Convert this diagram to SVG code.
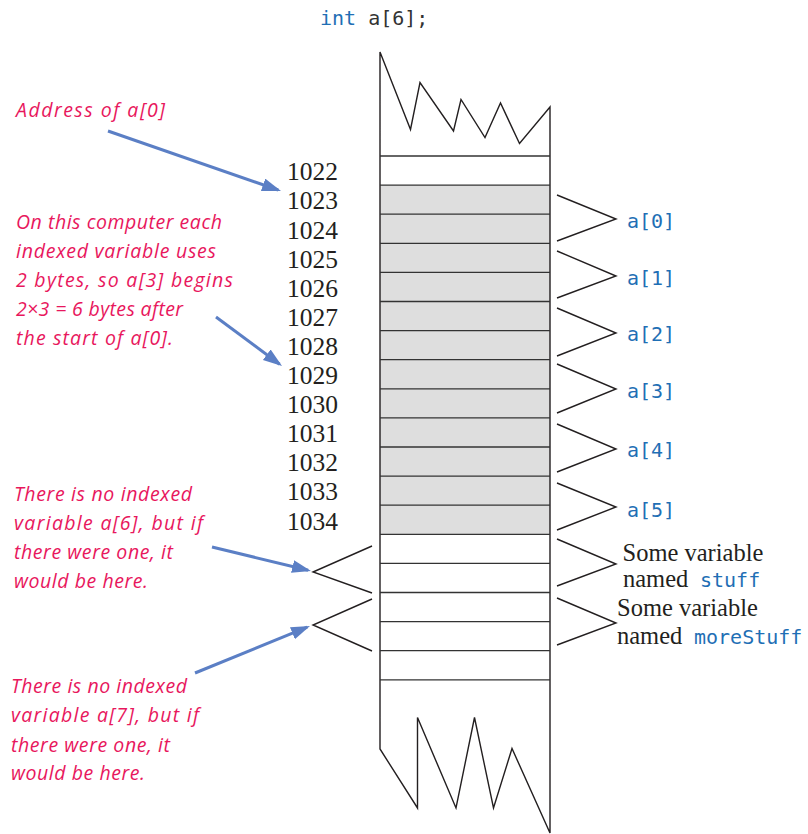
<svg xmlns="http://www.w3.org/2000/svg" width="808" height="834" viewBox="0 0 808 834">
  <style>
    .cell { fill: none; stroke: #333; stroke-width: 1.3; }
    .edge { fill: none; stroke: #231f20; stroke-width: 1.4; stroke-linejoin: miter; }
    .brace { fill: none; stroke: #231f20; stroke-width: 1.4; }
    .addr { font-family: "Liberation Serif", "Times New Roman", serif; font-size: 25.5px; fill: #231f20; text-anchor: end; }
    .serif { font-family: "Liberation Serif", "Times New Roman", serif; font-size: 24.5px; fill: #231f20; }
    .code { font-family: "DejaVu Sans Mono", "Liberation Mono", monospace; font-size: 20px; fill: #1f6fb5; }
    .note { font-family: "Open Sans", "DejaVu Sans", sans-serif; font-style: italic; font-size: 19.5px; fill: #e8175d; }
    .arrow { stroke: #5b7fc5; stroke-width: 3; fill: none; marker-end: url(#head); }
  </style>
  <defs>
    <marker id="head" markerUnits="userSpaceOnUse" markerWidth="20" markerHeight="14" refX="16" refY="6.5" orient="auto">
      <path d="M0,0 L19,6.5 L0,13 Z" fill="#5b7fc5"/>
    </marker>
  </defs>

  <!-- declaration -->
  <g id="declaration">
    <text x="320" y="25" class="code">int<tspan fill="#333"> a[6];</tspan></text>
  </g>

  <!-- memory column -->
  <g id="memory">
    <rect x="380" y="185.1" width="170" height="349.2" fill="#dedede"/>
    <path class="edge" d="M550,107 L519.5,143.5 L500.5,103 L485,137.5 L461,99.5 L453.5,131 L420,82.5 L410.5,129.5 L380,52 L380,749 L417.5,808 L417.5,717.5 L456,808 L474.5,717.5 L493.5,808 L512,748.5 L550,833 Z"/>
    <g class="cell">
      <line x1="380" y1="156" x2="550" y2="156"/>
      <line x1="380" y1="185.1" x2="550" y2="185.1"/>
      <line x1="380" y1="214.2" x2="550" y2="214.2"/>
      <line x1="380" y1="243.3" x2="550" y2="243.3"/>
      <line x1="380" y1="272.4" x2="550" y2="272.4"/>
      <line x1="380" y1="301.5" x2="550" y2="301.5"/>
      <line x1="380" y1="330.6" x2="550" y2="330.6"/>
      <line x1="380" y1="359.7" x2="550" y2="359.7"/>
      <line x1="380" y1="388.8" x2="550" y2="388.8"/>
      <line x1="380" y1="417.9" x2="550" y2="417.9"/>
      <line x1="380" y1="447" x2="550" y2="447"/>
      <line x1="380" y1="476.1" x2="550" y2="476.1"/>
      <line x1="380" y1="505.2" x2="550" y2="505.2"/>
      <line x1="380" y1="534.3" x2="550" y2="534.3"/>
      <line x1="380" y1="563.4" x2="550" y2="563.4"/>
      <line x1="380" y1="592.5" x2="550" y2="592.5"/>
      <line x1="380" y1="621.6" x2="550" y2="621.6"/>
      <line x1="380" y1="650.7" x2="550" y2="650.7"/>
      <line x1="380" y1="679.8" x2="550" y2="679.8"/>
    </g>
  </g>

  <!-- addresses -->
  <g id="addresses">
    <text class="addr" x="338" y="180.3">1022</text>
    <text class="addr" x="338" y="209.4">1023</text>
    <text class="addr" x="338" y="238.5">1024</text>
    <text class="addr" x="338" y="267.6">1025</text>
    <text class="addr" x="338" y="296.7">1026</text>
    <text class="addr" x="338" y="325.8">1027</text>
    <text class="addr" x="338" y="354.9">1028</text>
    <text class="addr" x="338" y="384">1029</text>
    <text class="addr" x="338" y="413.1">1030</text>
    <text class="addr" x="338" y="442.2">1031</text>
    <text class="addr" x="338" y="471.3">1032</text>
    <text class="addr" x="338" y="500.4">1033</text>
    <text class="addr" x="338" y="529.5">1034</text>
  </g>

  <!-- array elements -->
  <g id="a0"><polyline class="brace" points="557,195 616,219 557,241"/><text class="code" x="627" y="227.5">a[0]</text></g>
  <g id="a1"><polyline class="brace" points="557,251 616,276 557,298"/><text class="code" x="627" y="284.5">a[1]</text></g>
  <g id="a2"><polyline class="brace" points="557,308 616,333 557,356"/><text class="code" x="627" y="341">a[2]</text></g>
  <g id="a3"><polyline class="brace" points="557,364 616,389 557,413"/><text class="code" x="627" y="397.5">a[3]</text></g>
  <g id="a4"><polyline class="brace" points="557,424 616,449 557,472"/><text class="code" x="627" y="457">a[4]</text></g>
  <g id="a5"><polyline class="brace" points="557,483 616,507 557,530"/><text class="code" x="627" y="516.5">a[5]</text></g>

  <!-- other variables -->
  <g id="stuff">
    <polyline class="brace" points="557,539 616,564 557,586"/>
    <text class="serif" x="622.5" y="561">Some variable</text>
    <text class="serif" x="623" y="587">named<tspan class="code" x="700">stuff</tspan></text>
  </g>
  <g id="moreStuff">
    <polyline class="brace" points="557,598 616,623 557,645"/>
    <text class="serif" x="617" y="616">Some variable</text>
    <text class="serif" x="617" y="644">named<tspan class="code" x="694">moreStuff</tspan></text>
  </g>

  <!-- phantom slots past the end of the array -->
  <g id="a6-slot"><polyline class="brace" points="372,546 313,572 372,593"/></g>
  <g id="a7-slot"><polyline class="brace" points="372,599 313,625 372,651"/></g>

  <!-- notes -->
  <g id="note-address">
    <text class="note" x="16" y="117" textLength="149" lengthAdjust="spacing">Address of a[0]</text>
  </g>
  <g id="note-offset">
    <text class="note" x="16" y="228.5" textLength="206" lengthAdjust="spacing">On this computer each</text>
    <text class="note" x="16" y="257.5" textLength="200" lengthAdjust="spacing">indexed variable uses</text>
    <text class="note" x="16" y="286.5" textLength="217" lengthAdjust="spacing">2 bytes, so a[3] begins</text>
    <text class="note" x="16" y="315.5" textLength="167" lengthAdjust="spacing">2×3 = 6 bytes after</text>
    <text class="note" x="16" y="344.5" textLength="157" lengthAdjust="spacing">the start of a[0].</text>
  </g>
  <g id="note-a6">
    <text class="note" x="14" y="501" textLength="178" lengthAdjust="spacing">There is no indexed</text>
    <text class="note" x="14" y="530" textLength="189" lengthAdjust="spacing">variable a[6], but if</text>
    <text class="note" x="14" y="559" textLength="159" lengthAdjust="spacing">there were one, it</text>
    <text class="note" x="14" y="587.5" textLength="134" lengthAdjust="spacing">would be here.</text>
  </g>
  <g id="note-a7">
    <text class="note" x="11" y="693" textLength="176" lengthAdjust="spacing">There is no indexed</text>
    <text class="note" x="11" y="722" textLength="188" lengthAdjust="spacing">variable a[7], but if</text>
    <text class="note" x="11" y="751.5" textLength="159" lengthAdjust="spacing">there were one, it</text>
    <text class="note" x="11" y="780" textLength="134" lengthAdjust="spacing">would be here.</text>
  </g>

  <!-- pointer arrows -->
  <g id="connectors">
    <line class="arrow" x1="108" y1="131" x2="278.2" y2="190"/>
    <line class="arrow" x1="216" y1="317" x2="279.6" y2="364.2"/>
    <line class="arrow" x1="212" y1="547" x2="308.1" y2="570.3"/>
    <line class="arrow" x1="195" y1="673" x2="307.2" y2="627.1"/>
  </g>
</svg>
